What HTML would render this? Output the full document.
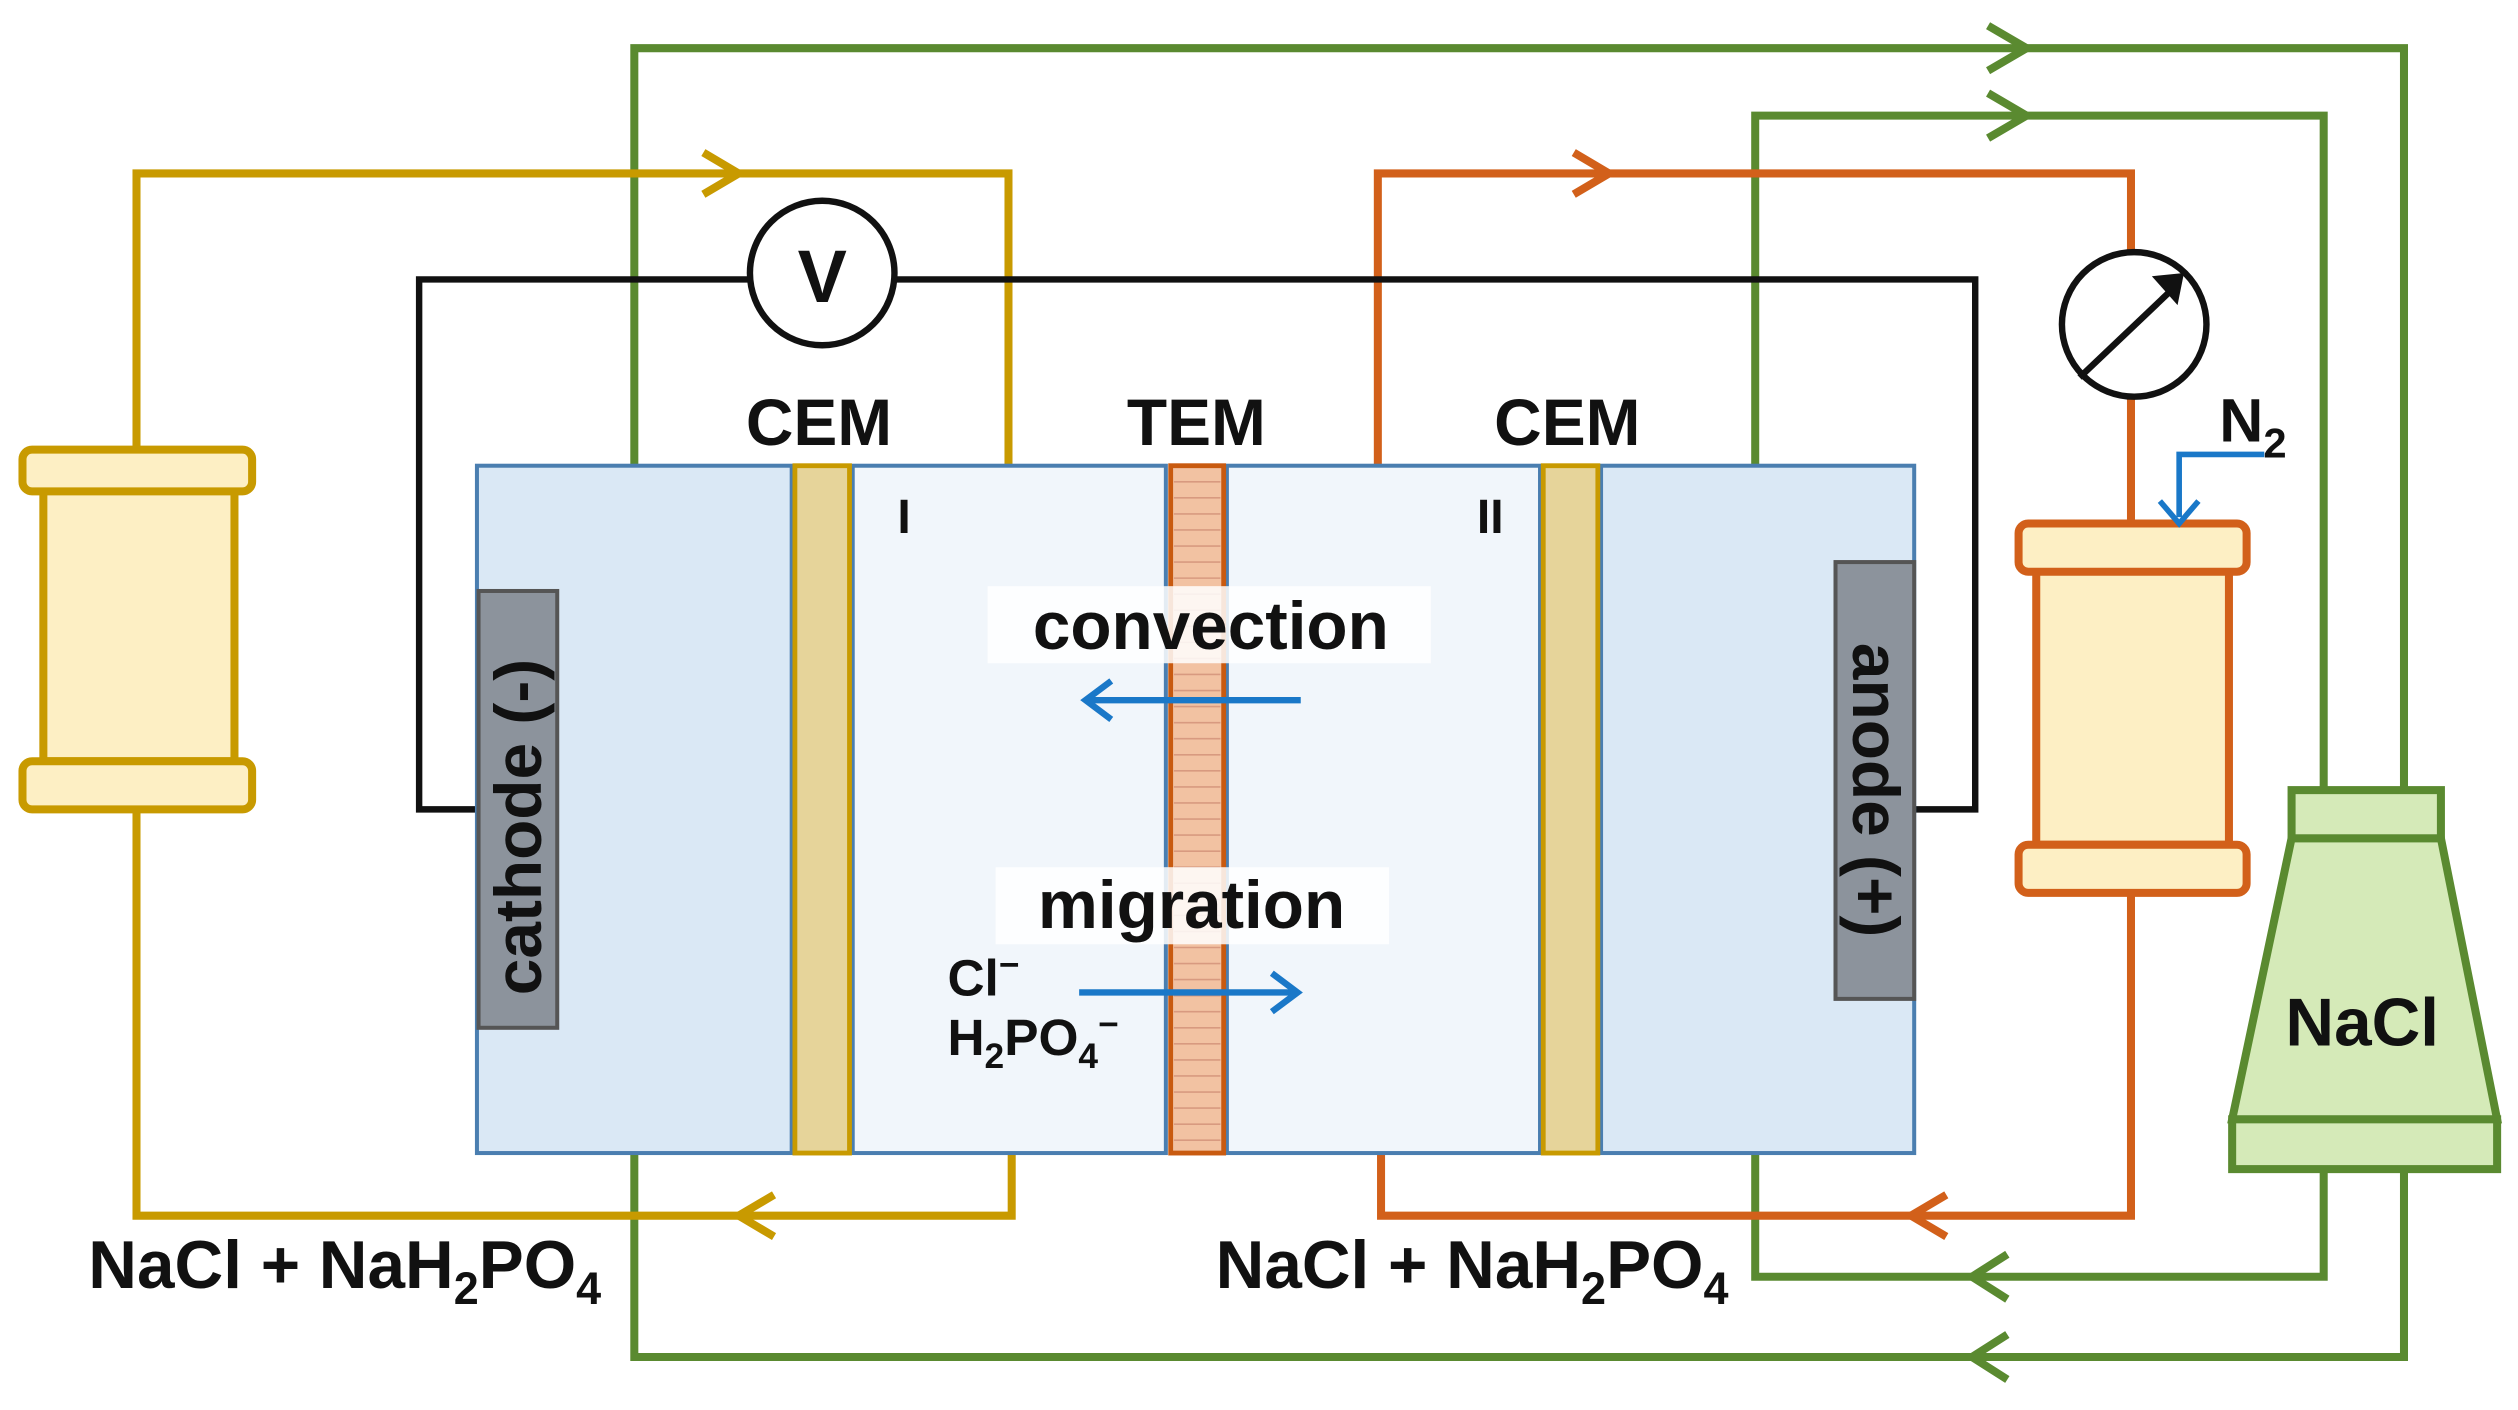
<!DOCTYPE html>
<html><head><meta charset="utf-8"><style>
html,body{margin:0;padding:0;background:#fff;width:2518px;height:1410px;overflow:hidden}
svg{display:block}
text{font-family:"Liberation Sans",sans-serif;font-weight:bold;fill:#111}
</style></head><body>
<svg width="2518" height="1410" viewBox="0 0 1568 878" preserveAspectRatio="none" xmlns="http://www.w3.org/2000/svg">
<!-- green loops -->
<g fill="none" stroke="#5a8a30" stroke-width="5">
<path d="M395,290 V30 H1497 V492"/>
<path d="M1497,728 V845 H395 V718"/>
<path d="M1093,290 V72 H1447 V492"/>
<path d="M1447,728 V795 H1093 V718"/>
<path d="M1238,16 L1262,30 L1238,44"/>
<path d="M1238,58 L1262,72 L1238,86"/>
<path d="M1250,781 L1228,795 L1250,809"/>
<path d="M1250,831 L1228,845 L1250,859"/>
</g>
<!-- gold loop -->
<g fill="none" stroke="#c89a00" stroke-width="5">
<path d="M85,278 V108 H628 V290"/>
<path d="M630,718 V757 H85 V505"/>
<path d="M438,95 L460,108 L438,121"/>
<path d="M482,744 L460,757 L482,770"/>
</g>
<!-- orange loop -->
<g fill="none" stroke="#d2601a" stroke-width="5">
<path d="M858,290 V108 H1327 V326"/>
<path d="M1327,557 V757 H860 V718"/>
<path d="M980,95 L1002,108 L980,121"/>
<path d="M1212,744 L1190,757 L1212,770"/>
</g>
<!-- black wire -->
<path d="M297,504 H261 V174 H1230 V504 H1192" fill="none" stroke="#111" stroke-width="4"/>
<circle cx="512" cy="170" r="45" fill="#fff" stroke="#111" stroke-width="4"/>
<text x="512" y="188" font-size="46" text-anchor="middle">V</text>
<circle cx="1329" cy="202" r="45" fill="#fff" stroke="#111" stroke-width="4"/>
<path d="M1295,235 L1355,178" stroke="#111" stroke-width="4"/>
<path d="M1340,172 L1360,170 L1356,190 Z" fill="#111"/>
<!-- cell -->
<g stroke="#4a7eb0" stroke-width="2.5">
<rect x="297" y="290" width="196" height="428" fill="#dae8f5"/>
<rect x="531" y="290" width="195" height="428" fill="#f1f6fb"/>
<rect x="764" y="290" width="195" height="428" fill="#f1f6fb"/>
<rect x="997" y="290" width="195" height="428" fill="#dae8f5"/>
</g>
<rect x="495" y="290" width="34" height="428" fill="#e6d49a" stroke="#c89a00" stroke-width="3"/>
<rect x="961" y="290" width="34" height="428" fill="#e6d49a" stroke="#c89a00" stroke-width="3"/>
<rect x="729" y="290" width="33" height="428" fill="#f2c2a2" stroke="#c85a10" stroke-width="3"/>
<path d="M731,300 H760 M731,310 H760 M731,320 H760 M731,330 H760 M731,340 H760 M731,350 H760 M731,360 H760 M731,370 H760 M731,380 H760 M731,390 H760 M731,400 H760 M731,410 H760 M731,420 H760 M731,430 H760 M731,440 H760 M731,450 H760 M731,460 H760 M731,470 H760 M731,480 H760 M731,490 H760 M731,500 H760 M731,510 H760 M731,520 H760 M731,530 H760 M731,540 H760 M731,550 H760 M731,560 H760 M731,570 H760 M731,580 H760 M731,590 H760 M731,600 H760 M731,610 H760 M731,620 H760 M731,630 H760 M731,640 H760 M731,650 H760 M731,660 H760 M731,670 H760 M731,680 H760 M731,690 H760 M731,700 H760 M731,710 H760" stroke="#d89a80" stroke-width="1"/>
<!-- electrodes -->
<rect x="298" y="368" width="49" height="272" fill="#8c939c" stroke="#555" stroke-width="2.5"/>
<text transform="translate(337,515) rotate(-90)" font-size="41" text-anchor="middle">cathode (-)</text>
<rect x="1143" y="350" width="49" height="272" fill="#8c939c" stroke="#555" stroke-width="2.5"/>
<text transform="translate(1154,492) rotate(90)" font-size="41" text-anchor="middle">anode (+)</text>
<!-- labels -->
<text x="510" y="277" font-size="41" text-anchor="middle">CEM</text>
<text x="745" y="277" font-size="41" text-anchor="middle">TEM</text>
<text x="976" y="277" font-size="41" text-anchor="middle">CEM</text>
<text x="563" y="332" font-size="30" text-anchor="middle" font-weight="normal">I</text>
<text x="928" y="332" font-size="30" text-anchor="middle" font-weight="normal">II</text>
<rect x="615" y="365" width="276" height="48" fill="#fff" opacity="0.85"/>
<text x="754" y="404" font-size="42" text-anchor="middle">convection</text>
<path d="M810,436 H678" stroke="#1a78c8" stroke-width="4"/>
<path d="M692,424 L676,436 L692,448" fill="none" stroke="#1a78c8" stroke-width="4"/>
<rect x="620" y="540" width="245" height="48" fill="#fff" opacity="0.85"/>
<text x="742" y="578" font-size="42" text-anchor="middle">migration</text>
<path d="M672,618 H806" stroke="#1a78c8" stroke-width="4"/>
<path d="M792,606 L808,618 L792,630" fill="none" stroke="#1a78c8" stroke-width="4"/>
<text x="590" y="620" font-size="32">Cl<tspan dy="-12" font-size="22">−</tspan></text>
<text x="590" y="657" font-size="32">H<tspan dy="8" font-size="22">2</tspan><tspan dy="-8">PO</tspan><tspan dy="8" font-size="22">4</tspan><tspan dy="-20" font-size="22">−</tspan></text>
<text x="55" y="802" font-size="42">NaCl + NaH<tspan dy="10" font-size="28">2</tspan><tspan dy="-10">PO</tspan><tspan dy="10" font-size="28">4</tspan></text>
<text x="757" y="802" font-size="42">NaCl + NaH<tspan dy="10" font-size="28">2</tspan><tspan dy="-10">PO</tspan><tspan dy="10" font-size="28">4</tspan></text>
<!-- left reservoir -->
<g fill="#fdefc4" stroke="#c89a00" stroke-width="5">
<rect x="27" y="304" width="119" height="170"/>
<rect x="14" y="280" width="143" height="26" rx="6"/>
<rect x="14" y="474" width="143" height="30" rx="6"/>
</g>
<!-- right reservoir -->
<g fill="#fdefc4" stroke="#d2601a" stroke-width="5">
<rect x="1268" y="354" width="120" height="172"/>
<rect x="1257" y="326" width="142" height="30" rx="6"/>
<rect x="1257" y="526" width="142" height="30" rx="6"/>
</g>
<text x="1382" y="275" font-size="38">N<tspan dy="10" font-size="26">2</tspan></text>
<path d="M1410,283 H1357 V322" fill="none" stroke="#1a78c8" stroke-width="3.5"/>
<path d="M1345,312 L1357,326 L1369,312" fill="none" stroke="#1a78c8" stroke-width="3.5"/>
<!-- NaCl tank -->
<g fill="#d5eab8" stroke="#5a8a30" stroke-width="5">
<path d="M1427,522 H1520 L1555,697 H1390 Z"/>
<rect x="1427" y="492" width="93" height="30"/>
<rect x="1390" y="697" width="165" height="31"/>
</g>
<text x="1471" y="651" font-size="42" text-anchor="middle">NaCl</text>
</svg>
</body></html>
